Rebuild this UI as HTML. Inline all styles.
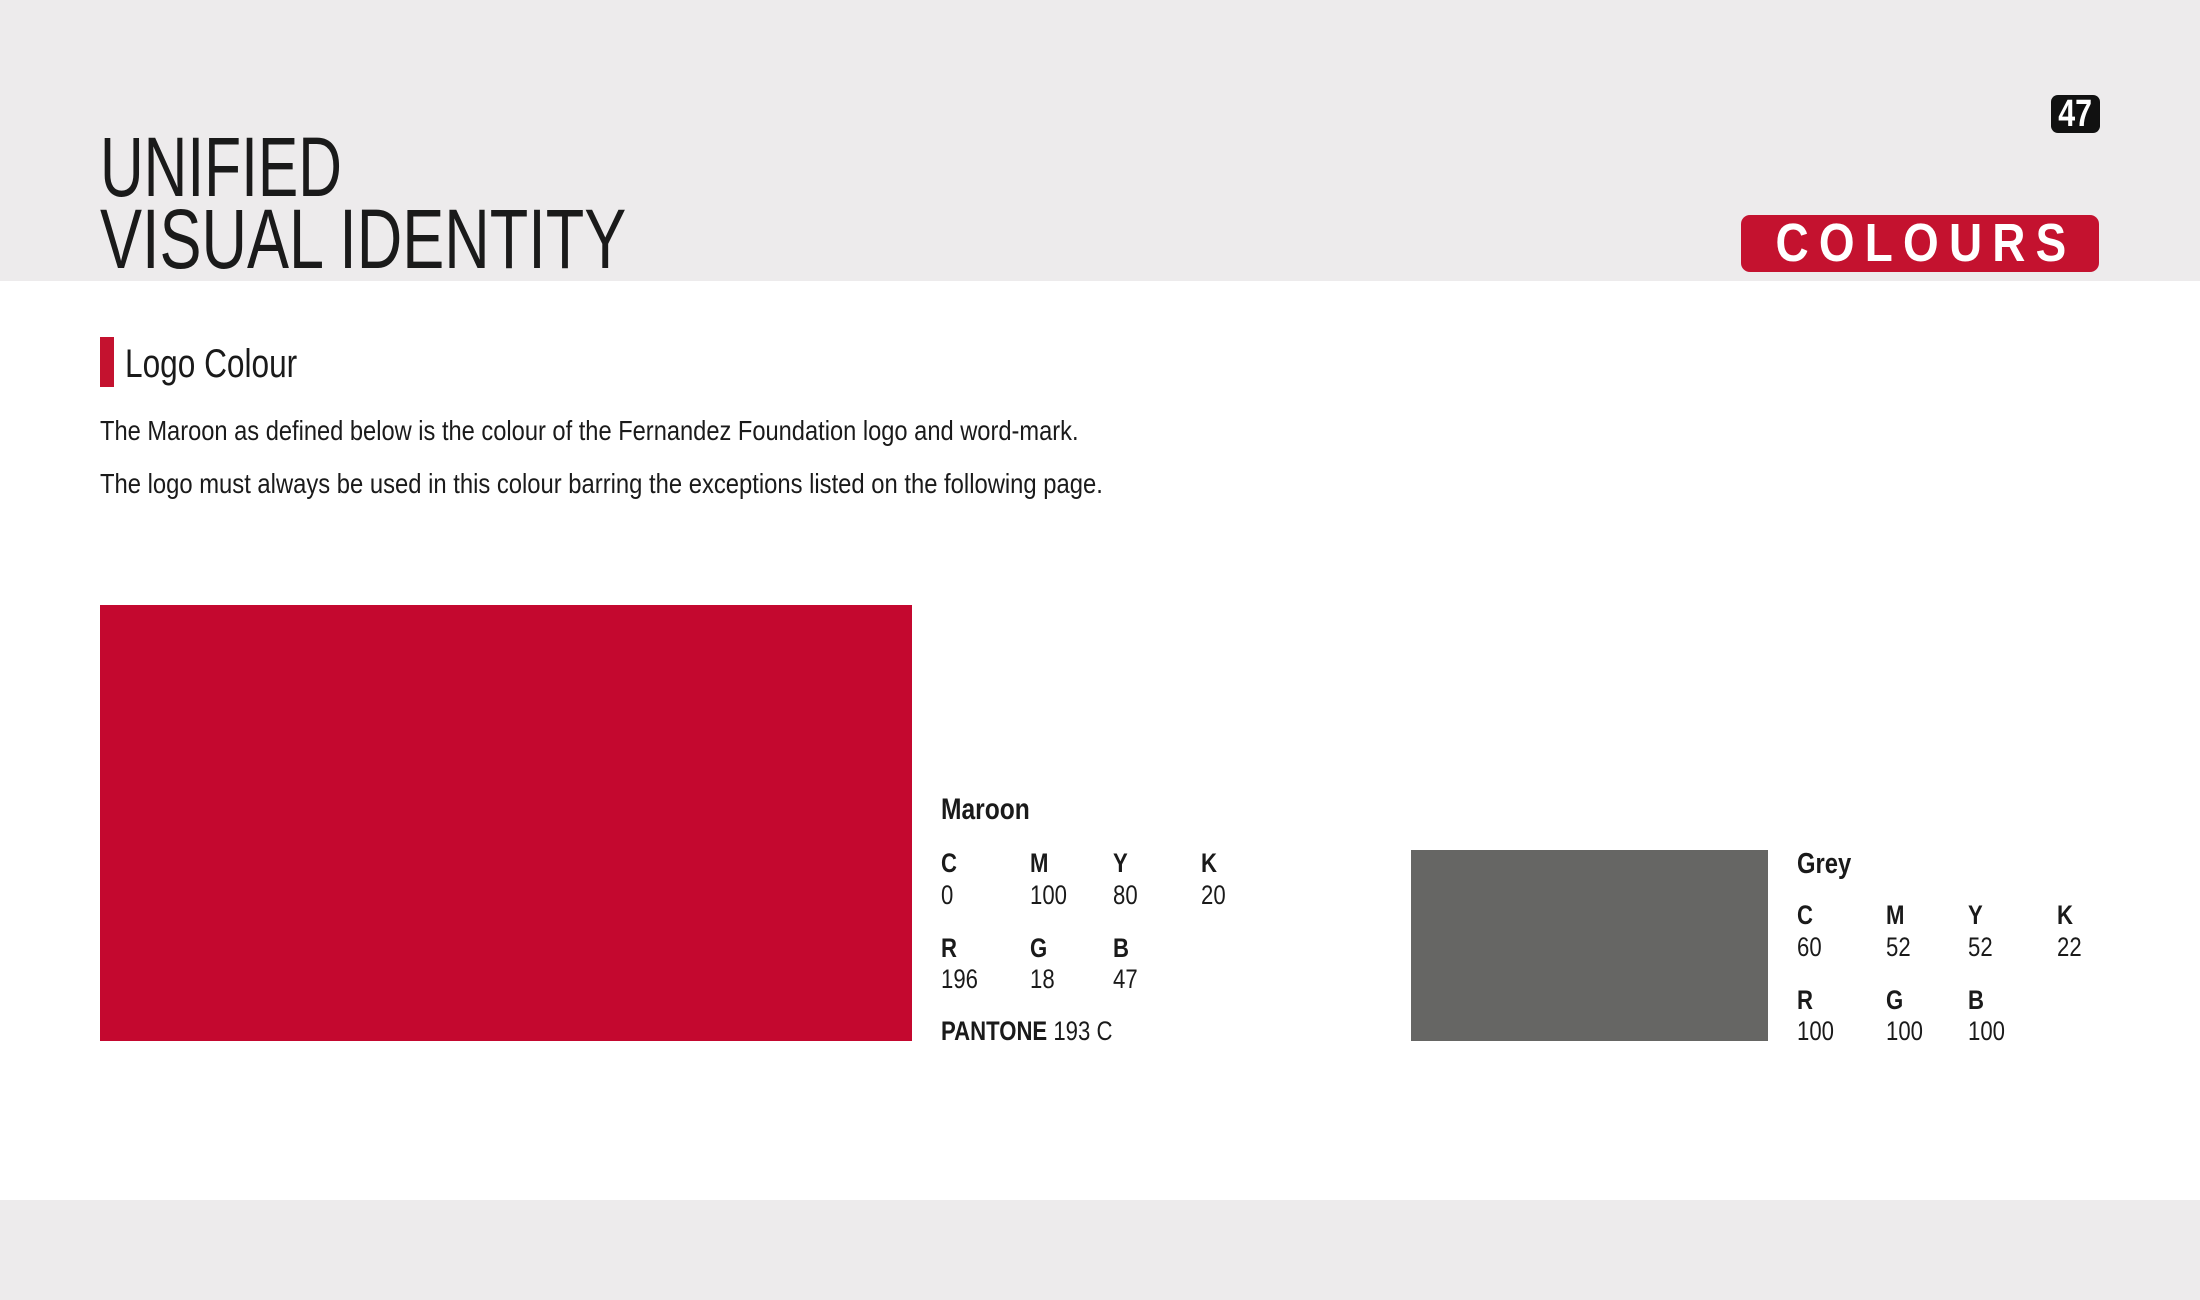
<!DOCTYPE html>
<html><head><meta charset="utf-8"><style>
body{margin:0;width:2200px;height:1300px;position:relative;background:#fff;font-family:"Liberation Sans",sans-serif;color:#1a1a1a;overflow:hidden}
.a{position:absolute;line-height:1;white-space:nowrap;transform-origin:0 0}
.n{transform:scaleX(0.82)}
.b{font-weight:bold}
</style></head><body>
<div style="position:absolute;left:0;top:0;width:2200px;height:281px;background:#edebec"></div>
<div style="position:absolute;left:0;top:1200px;width:2200px;height:100px;background:#edebec"></div>
<div class="a" style="left:100px;top:125px;font-size:84px;transform:scaleX(0.72)">UNIFIED</div>
<div class="a" style="left:100px;top:197px;font-size:84px;transform:scaleX(0.75)">VISUAL IDENTITY</div>
<div style="position:absolute;left:2051px;top:95px;width:49px;height:38px;background:#111;border-radius:7px;color:#fff;font-weight:bold;font-size:38px;line-height:38px;text-align:center"><span style="display:inline-block;transform:scaleX(0.8)">47</span></div>
<div style="position:absolute;left:1741px;top:215px;width:358px;height:57px;background:#c4122f;border-radius:9px;color:#fff;font-weight:bold;font-size:54px;line-height:57px;display:flex;justify-content:center;white-space:nowrap"><span style="display:inline-block;letter-spacing:12px;margin-right:-12px;transform:scaleX(0.85);transform-origin:50% 50%">COLOURS</span></div>
<div style="position:absolute;left:100px;top:337px;width:14px;height:50px;background:#c4122f"></div>
<div class="a" style="left:125px;top:344px;font-size:40px;transform:scaleX(0.79)">Logo Colour</div>
<div class="a" style="left:100px;top:417px;font-size:28px;transform:scaleX(0.845)">The Maroon as defined below is the colour of the Fernandez Foundation logo and word-mark.</div>
<div class="a" style="left:100px;top:470px;font-size:28px;transform:scaleX(0.85)">The logo must always be used in this colour barring the exceptions listed on the following page.</div>
<div style="position:absolute;left:100px;top:605px;width:812px;height:436px;background:#c4082f"></div>
<div style="position:absolute;left:1411px;top:850px;width:357px;height:191px;background:#666664"></div>
<div class="a n b" style="left:941px;top:795px;font-size:30px">Maroon</div>
<div class="a n b" style="left:941px;top:850px;font-size:27px">C</div>
<div class="a n b" style="left:1030px;top:850px;font-size:27px">M</div>
<div class="a n b" style="left:1113px;top:850px;font-size:27px">Y</div>
<div class="a n b" style="left:1201px;top:850px;font-size:27px">K</div>
<div class="a n" style="left:941px;top:882px;font-size:27px">0</div>
<div class="a n" style="left:1030px;top:882px;font-size:27px">100</div>
<div class="a n" style="left:1113px;top:882px;font-size:27px">80</div>
<div class="a n" style="left:1201px;top:882px;font-size:27px">20</div>
<div class="a n b" style="left:941px;top:935px;font-size:27px">R</div>
<div class="a n b" style="left:1030px;top:935px;font-size:27px">G</div>
<div class="a n b" style="left:1113px;top:935px;font-size:27px">B</div>
<div class="a n" style="left:941px;top:966px;font-size:27px">196</div>
<div class="a n" style="left:1030px;top:966px;font-size:27px">18</div>
<div class="a n" style="left:1113px;top:966px;font-size:27px">47</div>
<div class="a n" style="left:941px;top:1018px;font-size:27px"><b>PANTONE</b> 193 C</div>
<div class="a n b" style="left:1797px;top:850px;font-size:29px">Grey</div>
<div class="a n b" style="left:1797px;top:902px;font-size:27px">C</div>
<div class="a n b" style="left:1886px;top:902px;font-size:27px">M</div>
<div class="a n b" style="left:1968px;top:902px;font-size:27px">Y</div>
<div class="a n b" style="left:2057px;top:902px;font-size:27px">K</div>
<div class="a n" style="left:1797px;top:934px;font-size:27px">60</div>
<div class="a n" style="left:1886px;top:934px;font-size:27px">52</div>
<div class="a n" style="left:1968px;top:934px;font-size:27px">52</div>
<div class="a n" style="left:2057px;top:934px;font-size:27px">22</div>
<div class="a n b" style="left:1797px;top:987px;font-size:27px">R</div>
<div class="a n b" style="left:1886px;top:987px;font-size:27px">G</div>
<div class="a n b" style="left:1968px;top:987px;font-size:27px">B</div>
<div class="a n" style="left:1797px;top:1018px;font-size:27px">100</div>
<div class="a n" style="left:1886px;top:1018px;font-size:27px">100</div>
<div class="a n" style="left:1968px;top:1018px;font-size:27px">100</div>
</body></html>
